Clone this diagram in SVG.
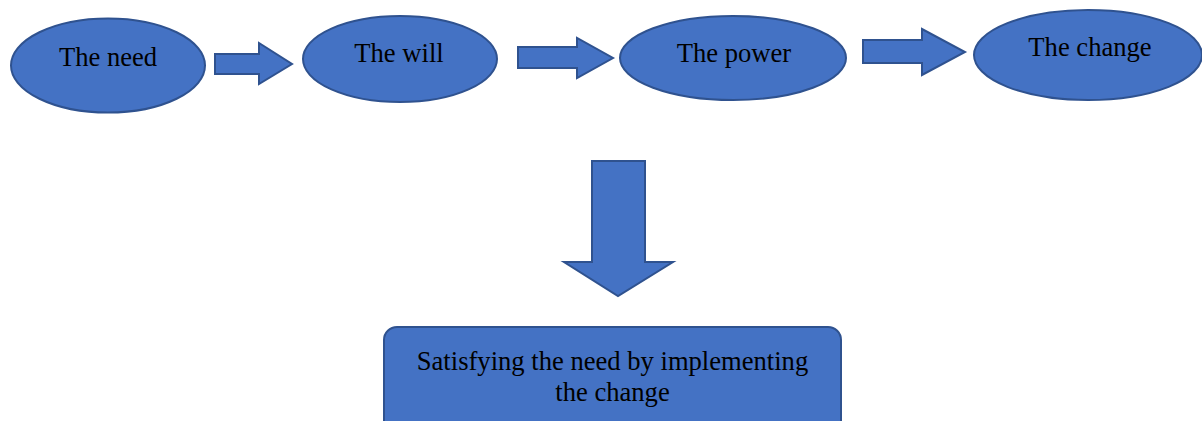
<svg xmlns="http://www.w3.org/2000/svg" width="1202" height="421" viewBox="0 0 1202 421">
<style>
.shape{fill:#4472C4;stroke:#2F528F;stroke-width:2}
.lbl{font-family:"Liberation Serif","Times New Roman",serif;font-size:26.6px;fill:#000;text-anchor:middle}
</style>
<rect width="1202" height="421" fill="#fff"/>
<g id="connectors">
<path class="shape" d="M215,54 H259 V43 L292,64 L259,84 V74 H215 Z"/>
<path class="shape" d="M518,47 H577 V38 L613,58 L577,78 V68 H518 Z"/>
<path class="shape" d="M863,40 H922 V29 L965,52 L922,75 V63 H863 Z"/>
<path class="shape" d="M592,161 H645 V262 H673 L618,296 L564,262 H592 Z"/>
</g>
<g id="node-need">
<ellipse class="shape" cx="108" cy="65.5" rx="97" ry="47"/>
<text class="lbl" x="108" y="66">The need</text>
</g>
<g id="node-will">
<ellipse class="shape" cx="400" cy="59" rx="97" ry="43"/>
<text class="lbl" x="399" y="62">The will</text>
</g>
<g id="node-power">
<ellipse class="shape" cx="733" cy="58" rx="113" ry="42"/>
<text class="lbl" x="734" y="62">The power</text>
</g>
<g id="node-change">
<ellipse class="shape" cx="1088" cy="55" rx="114" ry="45"/>
<text class="lbl" x="1090" y="56">The change</text>
</g>
<g id="node-result">
<rect class="shape" x="384" y="327" width="457" height="110" rx="13"/>
<text class="lbl" x="612.5" y="370">Satisfying the need by implementing</text>
<text class="lbl" x="612.5" y="401">the change</text>
</g>
</svg>
